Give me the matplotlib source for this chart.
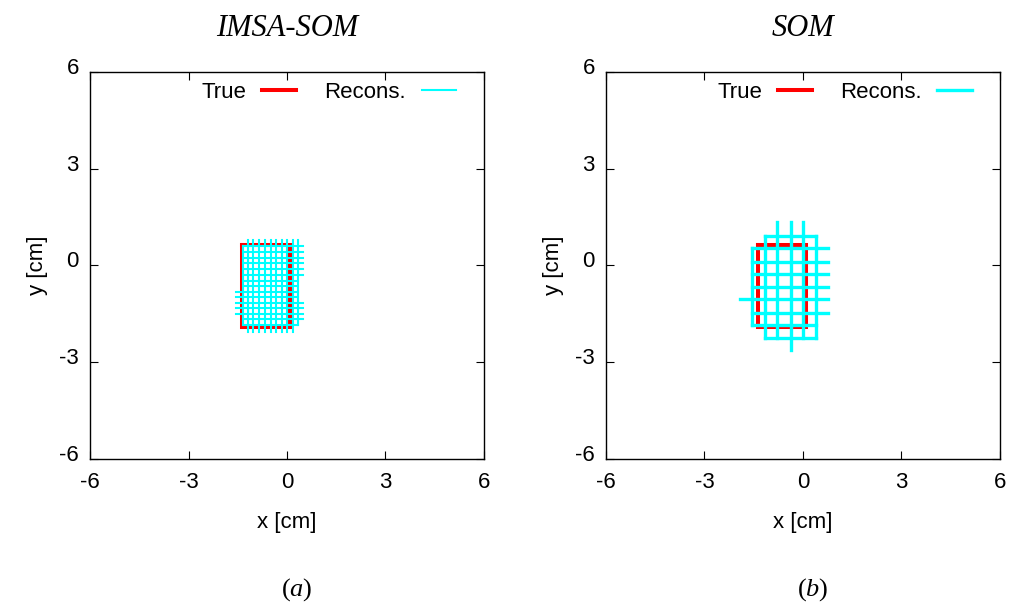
import numpy as np
import matplotlib
matplotlib.use("Agg")
import matplotlib.pyplot as plt
import matplotlib.transforms as mtransforms
from matplotlib.lines import Line2D

plt.rcParams['font.family'] = ['Liberation Sans', 'DejaVu Sans']
plt.rcParams['mathtext.fontset'] = 'custom'
plt.rcParams['mathtext.rm'] = 'Liberation Serif'
plt.rcParams['mathtext.it'] = 'Liberation Serif:italic'
plt.rcParams['axes.unicode_minus'] = False

# true object outline (cm)
true_x = [-1.36, 0.09, 0.09, -1.36, -1.36]
true_y = [0.65, 0.65, -1.92, -1.92, 0.65]

# IMSA-SOM reconstruction grid: (position, start, end) in cm
imsa_cols = [-1.33, -1.18, -1.03, -0.84, -0.67, -0.50, -0.34, -0.16, -0.01, 0.17, 0.34]
imsa_col_y0 = [0.60, 0.79, 0.79, 0.79, 0.79, 0.79, 0.79, 0.79, 0.79, 0.79, 0.79]
imsa_col_y1 = [-1.84, -2.05, -2.05, -2.05, -2.05, -2.05, -2.05, -2.05, -2.05, -2.05, -1.84]
imsa_rows = [0.60, 0.43, 0.24, 0.07, -0.12, -0.29, -0.47, -0.64, -0.81, -0.97,
             -1.16, -1.33, -1.51, -1.67, -1.84]
imsa_row_x0 = [-1.33, -1.33, -1.33, -1.33, -1.33, -1.33, -1.33, -1.33, -1.55, -1.55,
               -1.55, -1.55, -1.55, -1.33, -1.33]
imsa_row_x1 = [0.50, 0.50, 0.50, 0.50, 0.50, 0.50, 0.34, 0.34, 0.34, 0.34,
               0.50, 0.50, 0.50, 0.50, 0.34]

# SOM reconstruction grid
som_cols = [-1.56, -1.16, -0.78, -0.37, 0.01, 0.39]
som_col_y0 = [0.55, 0.92, 1.34, 1.34, 1.34, 0.92]
som_col_y1 = [-1.85, -2.24, -2.24, -2.62, -2.24, -2.24]
som_rows = [0.92, 0.55, 0.12, -0.27, -0.66, -1.05, -1.46, -1.83, -2.24]
som_row_x0 = [-1.16, -1.56, -1.56, -1.56, -1.56, -1.92, -1.56, -1.56, -1.16]
som_row_x1 = [0.39, 0.77, 0.77, 0.77, 0.77, 0.77, 0.77, 0.39, 0.39]

ticks = [-6, -3, 0, 3, 6]
titles = ['IMSA-SOM', 'SOM']
sublabels = [r'$\mathrm{(}a\mathrm{)}$', r'$\mathrm{(}b\mathrm{)}$']

fig = plt.figure(figsize=(10.15, 6.09), dpi=100)
rects = [[0.0887, 0.2463, 0.3881, 0.6355], [0.597, 0.2463, 0.3881, 0.6355]]

panels = [
    (imsa_cols, imsa_col_y0, imsa_col_y1, imsa_rows, imsa_row_x0, imsa_row_x1, 1.5, 2.9, 1.5),
    (som_cols, som_col_y0, som_col_y1, som_rows, som_row_x0, som_row_x1, 2.4, 2.9, 2.4),
]
fs = 16

for i, (cols, cy0, cy1, rows, rx0, rx1, lw, red_lw, leg_lw) in enumerate(panels):
    ax = fig.add_axes(rects[i])
    ax.plot(true_x, true_y, color='red', lw=red_lw, solid_joinstyle='miter', zorder=2)
    for x, a, b in zip(cols, cy0, cy1):
        ax.plot([x, x], [a, b], color='cyan', lw=lw, solid_capstyle='projecting', zorder=3)
    for y, a, b in zip(rows, rx0, rx1):
        ax.plot([a, b], [y, y], color='cyan', lw=lw, solid_capstyle='projecting', zorder=3)

    ax.set_xlim(-6, 6)
    ax.set_ylim(-6, 6)
    ax.set_xticks(ticks)
    ax.set_yticks(ticks)
    ax.tick_params(direction='in', length=6, width=0.8, top=True, right=True,
                   labelsize=fs)
    ax.tick_params(axis='x', pad=9)
    ax.tick_params(axis='y', pad=8)
    # gnuplot puts the y tick labels a little above their ticks
    up = mtransforms.ScaledTranslation(0, 6 / 100, fig.dpi_scale_trans)
    for lab in ax.get_yticklabels():
        lab.set_transform(lab.get_transform() + up)
    for s in ax.spines.values():
        s.set_linewidth(1.0)
    ax.set_xlabel('x [cm]', fontsize=fs, labelpad=14)
    ax.set_ylabel('y [cm]', fontsize=fs, labelpad=8)
    ax.text(0.5, 1.113, titles[i], transform=ax.transAxes, ha='center', va='center',
            fontsize=22, family='Liberation Serif', style='italic')
    ax.text(0.525, -0.3385, sublabels[i], transform=ax.transAxes, ha='center', va='center',
            fontsize=19)

    handles = [Line2D([], [], color='red', lw=2.9), Line2D([], [], color='cyan', lw=leg_lw)]
    ax.legend(handles, ['True', 'Recons.'], ncol=2, markerfirst=False, frameon=False,
              loc='upper right', bbox_to_anchor=(0.929, 0.975), fontsize=fs,
              handlelength=1.55, columnspacing=1.27, handletextpad=0.7,
              borderpad=0, borderaxespad=0)

fig.savefig('out.png', dpi=100)
